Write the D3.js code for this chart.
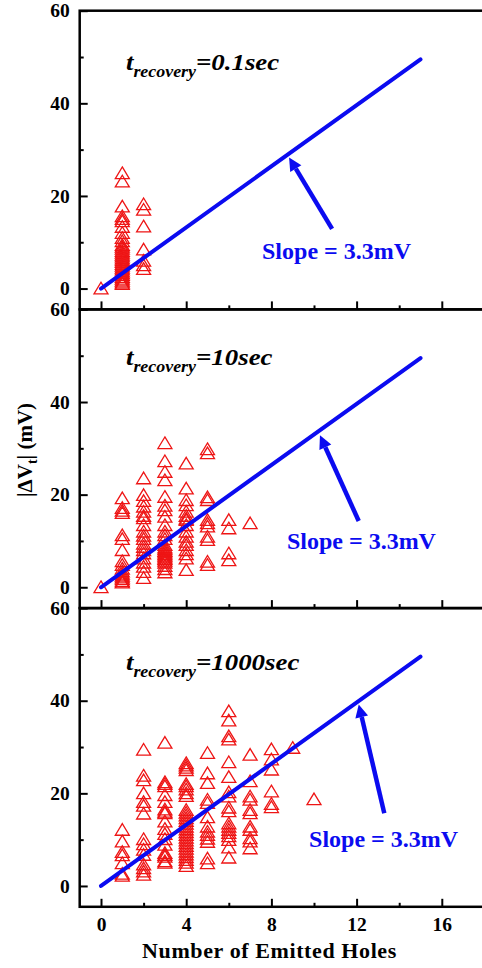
<!DOCTYPE html>
<html>
<head>
<meta charset="utf-8">
<script src="https://cdn.jsdelivr.net/npm/d3@7"></script>
<style>
  body { margin: 0; background: #fff; }
  svg { display: block; }
  text { font-family: "Liberation Serif", "Times New Roman", serif; font-weight: bold; }
</style>
</head>
<body>
<div id="chart"></div>
<script>
// recovery times, one per panel
const recoveryLabels = ["0.1sec", "10sec", "1000sec"];

// [number of emitted holes, |dVt| values in mV]
const points01 = [
    [0, [0]],
    [1, [24.9, 23.1, 17.7, 15.6, 15.0, 14.5, 13.3, 12.0, 10.9, 10.2, 9.4, 9.0, 8.6, 8.1, 7.7, 7.3, 6.9, 6.5, 6.1, 5.7, 5.3, 4.9, 4.5, 4.1, 3.7, 3.3, 2.9, 2.5, 2.1, 1.7, 1.3, 1.0]],
    [2, [18.2, 17.0, 13.4, 8.4, 6.0, 5.0, 4.2]]
];
const points10 = [
    [0, [0]],
    [1, [19.2, 17.1, 16.5, 16.0, 11.2, 10.4, 8.0, 5.6, 4.8, 4.0, 3.4, 2.9, 2.5, 2.1, 1.7, 1.3, 1.0]],
    [2, [23.5, 19.9, 18.6, 17.4, 16.3, 15.4, 14.9, 13.4, 12.0, 11.1, 10.4, 9.4, 8.7, 8.0, 7.3, 6.2, 5.3, 4.4, 3.3, 2.0]],
    [3, [31.1, 27.2, 24.9, 23.1, 19.5, 17.6, 16.6, 15.2, 13.4, 12.0, 11.2, 10.4, 9.1, 8.6, 8.2, 7.8, 7.5, 7.1, 6.8, 6.4, 6.1, 5.7, 5.3, 4.6, 3.9, 3.2]],
    [4, [26.7, 21.3, 18.8, 17.7, 16.3, 15.4, 14.8, 14.5, 13.4, 12.0, 10.9, 9.8, 9.1, 8.0, 7.1, 6.2, 3.7]],
    [5, [29.8, 28.9, 19.4, 18.8, 14.5, 13.8, 13.1, 10.9, 10.2, 5.5, 4.8]],
    [6, [14.5, 12.7, 7.3, 5.8]],
    [7, [13.8]]
];
const points1000 = [
    [1, [12.1, 9.6, 7.3, 6.6, 4.9, 2.6, 2.2]],
    [2, [29.4, 23.8, 22.8, 20.0, 18.1, 17.3, 15.6, 10.1, 9.0, 7.8, 6.7, 4.6, 3.8, 3.1, 2.4]],
    [3, [30.9, 22.4, 22.0, 21.5, 19.6, 18.1, 16.5, 16.0, 15.7, 13.9, 12.3, 11.2, 10.1, 8.9, 7.1, 6.7, 6.3, 5.3, 5.0]],
    [4, [26.5, 26.0, 25.5, 25.0, 22.0, 21.5, 20.8, 20.0, 19.4, 16.4, 15.8, 15.2, 14.6, 14.0, 13.4, 12.8, 12.2, 11.6, 11.0, 10.4, 9.8, 9.2, 8.6, 8.0, 7.4, 6.8, 6.2, 5.6, 5.0, 4.3]],
    [5, [28.7, 24.3, 22.2, 18.6, 17.9, 14.8, 12.8, 11.7, 11.0, 10.2, 9.5, 5.9, 4.9]],
    [6, [37.7, 35.7, 32.3, 31.6, 26.7, 23.5, 20.2, 19.3, 16.9, 16.1, 13.5, 12.8, 12.1, 11.4, 10.7, 9.9, 8.3, 6.1]],
    [7, [28.3, 22.6, 19.3, 18.6, 16.4, 15.7, 12.8, 12.1, 10.3, 9.6, 8.1]],
    [8, [29.5, 27.3, 25.1, 20.4, 17.7, 17.0]],
    [9, [29.8]],
    [10, [18.7]]
];
const panelPoints = [points01, points10, points1000];

// fitted line
const slope = 3.3;
const fitRange = [0, 15];
const slopeLabel = "Slope = 3.3mV";

// annotation anchors in data units
const arrowTails = [[10.85, 12.9], [12.1, 14.3], [13.3, 15.7]];
const arrowHeads = [[8.83, 28.3], [10.28, 32.8], [12.1, 39.2]];
const slopeTextPos = [[7.56, 6.4], [8.73, 8.2], [9.77, 8.4]];
const titlePos = [[1.17, 47.3], [1.17, 47.9], [1.17, 46.7]];

const xTicks = [0, 4, 8, 12, 16];
const xMinor = [2, 6, 10, 14];
const yTicks = [0, 20, 40, 60];
const yMinor = [10, 30, 50];

const width = 482, height = 968;
const left = 79.7, right = 484.4;
const top0 = 10.7, panelH = 298.7;
const red = "#ee1515", blue = "#0b0bf0";

const svg = d3.select("#chart").append("svg")
    .attr("width", width)
    .attr("height", height);

const x = d3.scaleLinear().domain([-1, 18]).range([left, right]);

const tri = "M0,-6.3L7,5.3L-7,5.3Z";

panelPoints.forEach((cols, i) => {
    const py0 = top0 + i * panelH;
    const y = d3.scaleLinear().domain([-4.5, 60]).range([py0 + panelH, py0]);
    const g = svg.append("g");

    // frame
    g.append("rect")
        .attr("x", left).attr("y", py0)
        .attr("width", right - left).attr("height", panelH)
        .attr("fill", "none").attr("stroke", "#000").attr("stroke-width", 2.5);

    // y axis
    const yAxis = g.append("g")
        .attr("transform", `translate(${left},0)`)
        .call(d3.axisLeft(y).tickValues(yTicks).tickSize(-8).tickPadding(10));
    yAxis.select(".domain").remove();
    yAxis.selectAll("line").attr("stroke-width", 2);
    yAxis.selectAll("text").attr("font-size", 19.5).attr("fill", "#000");

    const yAxisMinor = g.append("g")
        .attr("transform", `translate(${left},0)`)
        .call(d3.axisLeft(y).tickValues(yMinor).tickSize(-4).tickFormat(""));
    yAxisMinor.select(".domain").remove();
    yAxisMinor.selectAll("line").attr("stroke-width", 2);

    // x axis on bottom of each panel
    const xAxis = g.append("g")
        .attr("transform", `translate(0,${py0 + panelH})`)
        .call(d3.axisBottom(x).tickValues(xTicks).tickSize(-8).tickPadding(10)
            .tickFormat(i === 2 ? d3.format("d") : ""));
    xAxis.select(".domain").remove();
    xAxis.selectAll("line").attr("stroke-width", 2);
    xAxis.selectAll("text").attr("font-size", 19.5).attr("fill", "#000");

    const xAxisMinor = g.append("g")
        .attr("transform", `translate(0,${py0 + panelH})`)
        .call(d3.axisBottom(x).tickValues(xMinor).tickSize(-4).tickFormat(""));
    xAxisMinor.select(".domain").remove();
    xAxisMinor.selectAll("line").attr("stroke-width", 2);

    // scatter points
    const flat = cols.flatMap(([n, vals]) => vals.map(v => ({ n, v })));
    g.append("g")
        .selectAll("path")
        .data(flat)
        .join("path")
        .attr("d", tri)
        .attr("transform", d => `translate(${x(d.n)},${y(d.v)})`)
        .attr("fill", "none")
        .attr("stroke", red)
        .attr("stroke-width", 1.3);

    // fit line
    g.append("line")
        .attr("x1", x(fitRange[0])).attr("y1", y(slope * fitRange[0]))
        .attr("x2", x(fitRange[1])).attr("y2", y(slope * fitRange[1]))
        .attr("stroke", blue).attr("stroke-width", 4).attr("stroke-linecap", "round");

    // arrow
    const [tx, ty] = [x(arrowTails[i][0]), y(arrowTails[i][1])];
    const [hx, hy] = [x(arrowHeads[i][0]), y(arrowHeads[i][1])];
    const ang = Math.atan2(hy - ty, hx - tx);
    const headLen = 13, headW = 6.5;
    const bx = hx - headLen * Math.cos(ang), by = hy - headLen * Math.sin(ang);
    g.append("line")
        .attr("x1", tx).attr("y1", ty).attr("x2", bx).attr("y2", by)
        .attr("stroke", blue).attr("stroke-width", 4.5);
    g.append("path")
        .attr("d", d3.line()([
            [hx, hy],
            [bx + headW * Math.sin(ang), by - headW * Math.cos(ang)],
            [bx - headW * Math.sin(ang), by + headW * Math.cos(ang)]
        ]) + "Z")
        .attr("fill", blue);

    // slope text
    g.append("text")
        .attr("x", x(slopeTextPos[i][0])).attr("y", y(slopeTextPos[i][1]))
        .attr("font-size", 24).attr("fill", blue)
        .text(slopeLabel);

    // recovery time label
    const t = g.append("text")
        .attr("transform", `translate(${x(titlePos[i][0])},${y(titlePos[i][1])}) scale(1.12,1)`)
        .attr("font-size", 24).attr("font-style", "italic").attr("fill", "#000");
    t.append("tspan").text("t");
    t.append("tspan").attr("font-size", 16).attr("dy", 7).text("recovery");
    t.append("tspan").attr("dy", -7).text("=" + recoveryLabels[i]);
});

// axis titles
svg.append("text")
    .attr("x", 269.5).attr("y", 958)
    .attr("text-anchor", "middle")
    .attr("font-size", 22).attr("letter-spacing", 0.6)
    .text("Number of Emitted Holes");

const yt = svg.append("text")
    .attr("transform", "translate(32,450) rotate(-90)")
    .attr("text-anchor", "middle")
    .attr("font-size", 21);
yt.append("tspan").text("|\u0394V");
yt.append("tspan").attr("font-size", 14).attr("dy", 5).text("t");
yt.append("tspan").attr("dy", -5).text("| (mV)");
</script>
</body>
</html>
